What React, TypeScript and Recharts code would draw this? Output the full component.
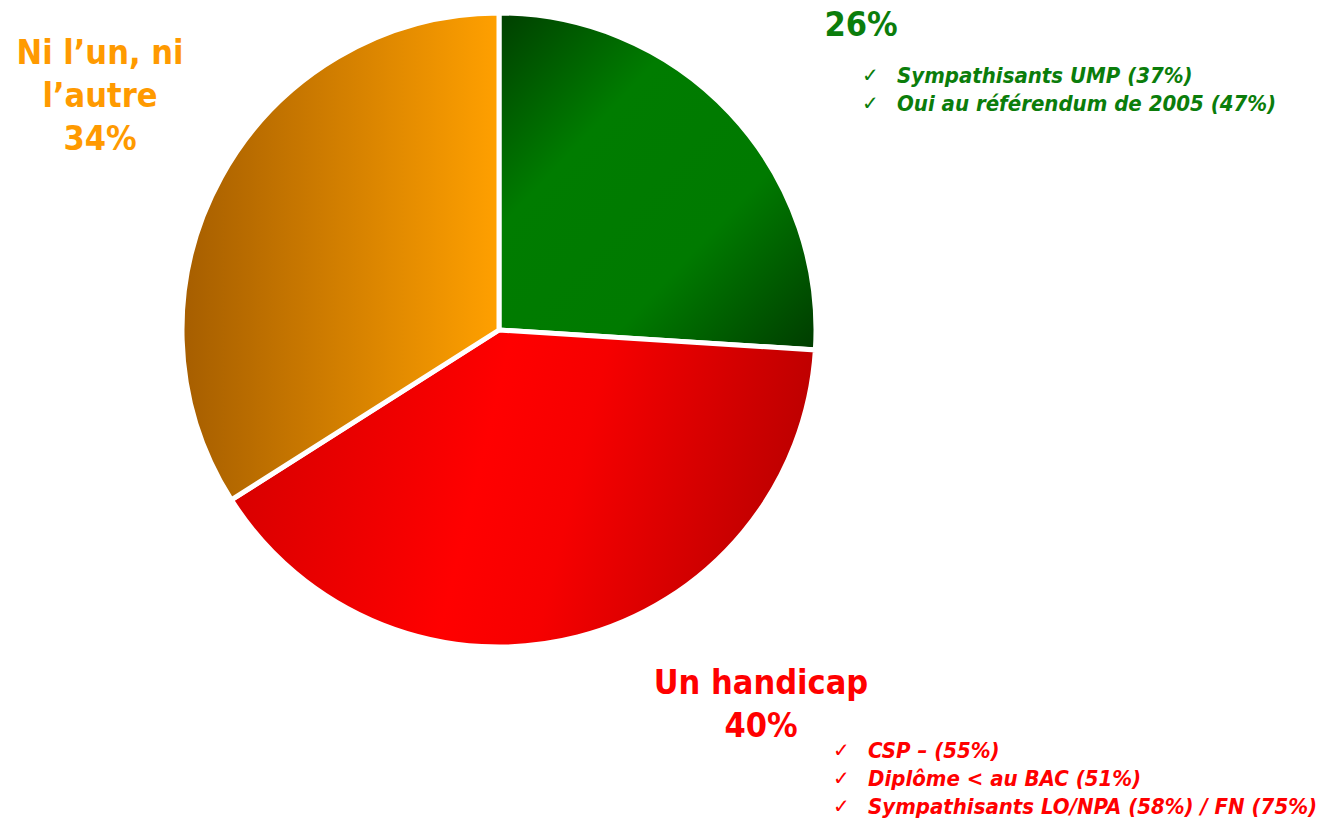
import { PieChart, Pie, Cell } from "recharts";

const slices = ["Un avantage", "Un handicap", "Ni l’un, ni l’autre"];
const shares = [26, 40, 34];
const fills = ["url(#gradGreen)", "url(#gradRed)", "url(#gradOrange)"];

const greenNotes = ["Sympathisants UMP (37%)", "Oui au référendum de 2005 (47%)"];
const redNotes = ["CSP – (55%)", "Diplôme < au BAC (51%)", "Sympathisants LO/NPA (58%) / FN (75%)"];

const data = slices.map((name, i) => ({ name, value: shares[i] }));

const FONT = "'DejaVu Sans Condensed', 'DejaVu Sans', sans-serif";
const GREEN = "#0b7d0b";
const RED = "#ff0000";
const ORANGE = "#ff9a00";

function Notes({ x, y, lines, color }: { x: number; y: number; lines: string[]; color: string }) {
  return (
    <g>
      {lines.map((t, i) => (
        <g key={t}>
          <text x={x} y={y + i * 28} fill={color} fontSize={20} fontFamily="'DejaVu Sans'" dominantBaseline="central">
            ✓
          </text>
          <text
            x={x + 35}
            y={y + i * 28}
            fill={color}
            fontSize={22}
            fontStyle="italic"
            fontWeight={700}
            fontFamily={FONT}
            dominantBaseline="central"
          >
            {t}
          </text>
        </g>
      ))}
    </g>
  );
}

function Title({ x, y, lines, color }: { x: number; y: number; lines: string[]; color: string }) {
  return (
    <text x={x} y={y} fill={color} fontSize={34} fontWeight={700} fontFamily={FONT} textAnchor="middle">
      {lines.map((t, i) => (
        <tspan key={t} x={x} dy={i === 0 ? 0 : 43}>
          {t}
        </tspan>
      ))}
    </text>
  );
}

export default function App() {
  return (
    <div style={{ position: "absolute", left: 0, top: 0, width: 1324, height: 822, background: "#fff" }}>
      <svg width={0} height={0} style={{ position: "absolute" }}>
        <defs>
          <linearGradient id="gradGreen" x1="0" y1="0" x2="1" y2="1">
            <stop offset="0%" stopColor="#003f00" />
            <stop offset="32%" stopColor="#007c00" />
            <stop offset="66%" stopColor="#007a00" />
            <stop offset="100%" stopColor="#003c00" />
          </linearGradient>
          <linearGradient id="gradRed" gradientUnits="userSpaceOnUse" x1="231" y1="500" x2="748" y2="626">
            <stop offset="0%" stopColor="#d80000" />
            <stop offset="44%" stopColor="#ff0000" />
            <stop offset="62%" stopColor="#f60000" />
            <stop offset="100%" stopColor="#c00000" />
          </linearGradient>
          <linearGradient id="gradOrange" x1="0" y1="0" x2="1" y2="0">
            <stop offset="0%" stopColor="#a65e00" />
            <stop offset="100%" stopColor="#ffa000" />
          </linearGradient>
        </defs>
      </svg>
      <PieChart width={1324} height={822} margin={{ top: 0, right: 0, bottom: 0, left: 0 }}>
        <Pie
          data={data}
          dataKey="value"
          nameKey="name"
          cx={499}
          cy={330}
          outerRadius={317}
          startAngle={90}
          endAngle={-270}
          stroke="#ffffff"
          strokeWidth={5}
          isAnimationActive={false}
          labelLine={false}
          label={false}
        >
          {data.map((d, i) => (
            <Cell key={d.name} fill={fills[i]} />
          ))}
        </Pie>
      </PieChart>
      <svg width={1324} height={822} style={{ position: "absolute", left: 0, top: 0, pointerEvents: "none" }}>
        <Title x={861} y={36} lines={[`${shares[0]}%`]} color={GREEN} />
        <Notes x={862} y={75} lines={greenNotes} color={GREEN} />
        <Title x={100} y={64} lines={["Ni l’un, ni", "l’autre", `${shares[2]}%`]} color={ORANGE} />
        <Title x={761} y={694} lines={["Un handicap", `${shares[1]}%`]} color={RED} />
        <Notes x={833} y={750} lines={redNotes} color={RED} />
      </svg>
    </div>
  );
}
